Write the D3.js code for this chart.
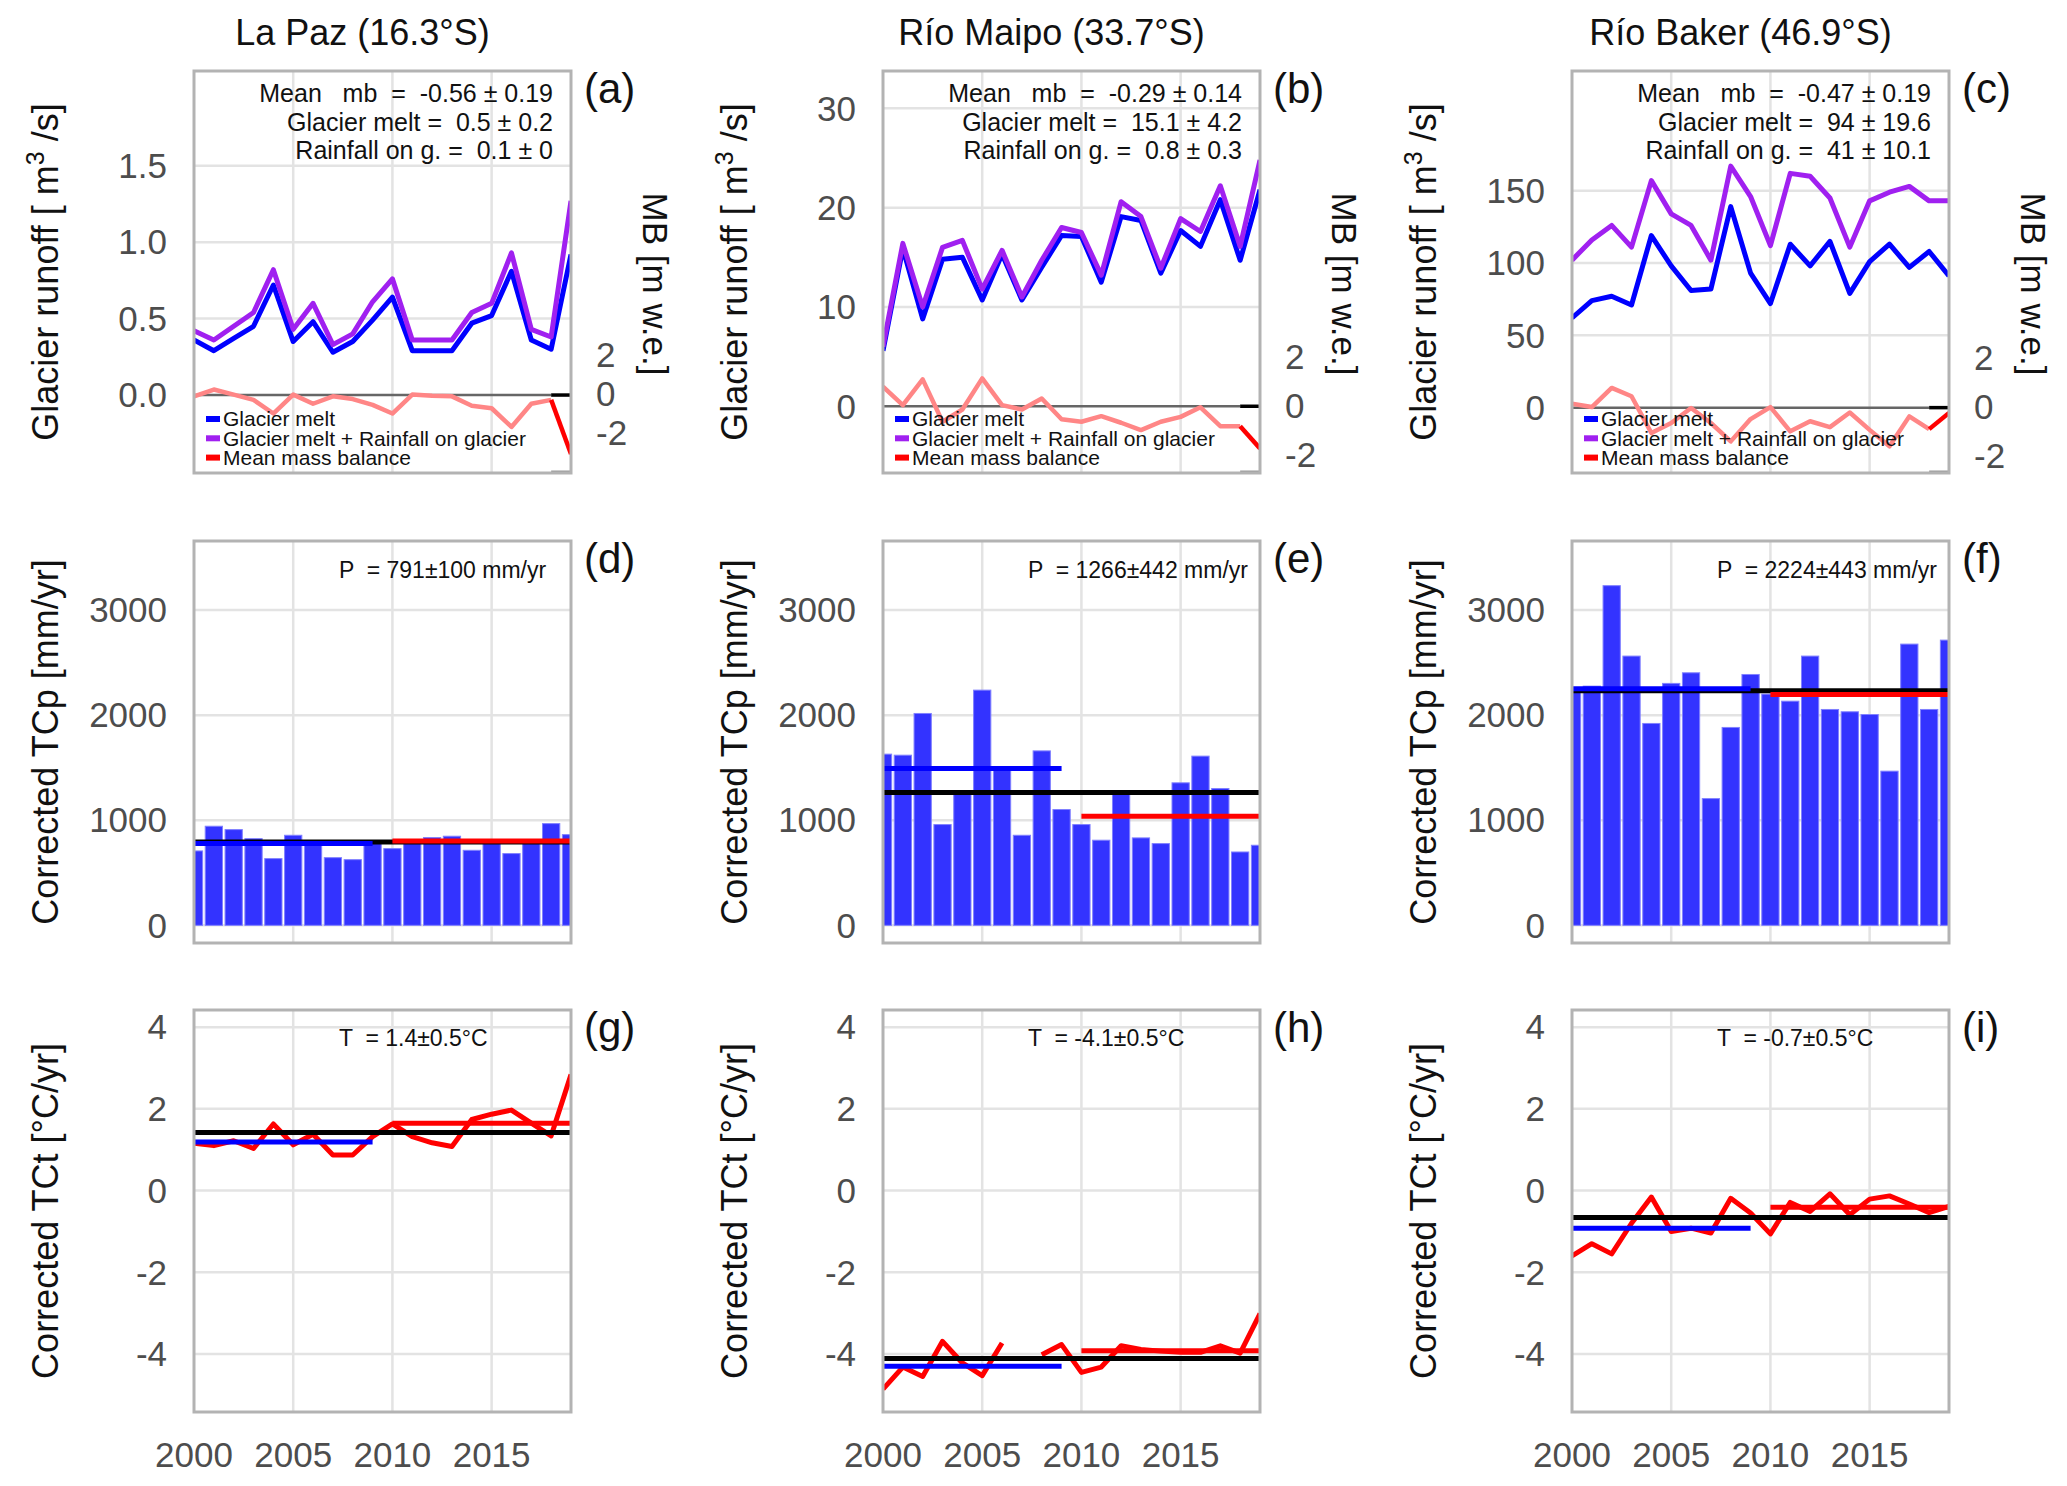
<!DOCTYPE html>
<html>
<head>
<meta charset="UTF-8">
<script src="https://d3js.org/d3.v7.min.js"></script>
<style>
body { margin: 0; background: #fff; }
svg { font-family: "Liberation Sans", Arial, sans-serif; }
.pre { white-space: pre; }
</style>
</head>
<body>
<svg id="chart" width="2067" height="1486"></svg>
<script>
// ---- datos ----
var years = [2000, 2001, 2002, 2003, 2004, 2005, 2006, 2007, 2008, 2009,
             2010, 2011, 2012, 2013, 2014, 2015, 2016, 2017, 2018, 2019];
var sites = ["La Paz (16.3°S)", "Río Maipo (33.7°S)", "Río Baker (46.9°S)"];
var letters = [["(a)", "(b)", "(c)"], ["(d)", "(e)", "(f)"], ["(g)", "(h)", "(i)"]];

// fila 1: escorrentia glaciar [m3/s] y balance de masa [m w.e.]
var meltLaPaz = [0.36, 0.29, 0.37, 0.45, 0.72, 0.35, 0.48, 0.28, 0.35, 0.49,
                 0.64, 0.29, 0.29, 0.29, 0.47, 0.52, 0.81, 0.36, 0.30, 0.92];
var meltRainLaPaz = [0.42, 0.36, 0.45, 0.54, 0.82, 0.43, 0.60, 0.33, 0.40, 0.61,
                     0.76, 0.36, 0.36, 0.36, 0.54, 0.60, 0.93, 0.43, 0.38, 1.27];
var mbLaPaz = [-0.12, 0.23, -0.03, -0.30, -1.00, -0.03, -0.50, -0.12, -0.26, -0.56,
               -1.00, -0.03, -0.09, -0.12, -0.60, -0.73, -1.69, -0.50, -0.30, -3.08];

var meltMaipo = [5.6, 15.9, 8.8, 14.8, 15.0, 10.7, 15.3, 10.7, 14.0, 17.2,
                 17.1, 12.5, 19.1, 18.7, 13.4, 17.7, 16.1, 20.8, 14.7, 21.8];
var meltRainMaipo = [6.0, 16.4, 10.0, 16.0, 16.7, 11.8, 15.7, 11.0, 14.7, 18.0,
                     17.5, 13.2, 20.6, 19.1, 13.9, 18.9, 17.6, 22.2, 16.1, 24.8];
var mbMaipo = [0.79, 0.04, 1.09, -0.64, -0.14, 1.13, 0.04, -0.14, 0.31, -0.54,
               -0.64, -0.41, -0.68, -0.98, -0.64, -0.44, -0.05, -0.82, -0.82, -1.73];

var meltBaker = [62, 74, 77, 71, 119, 98, 81, 82, 139, 93,
                 72, 113, 98, 115, 79, 101, 113, 97, 108, 91];
var meltRainBaker = [102, 116, 126, 111, 157, 134, 126, 102, 167, 146,
                     112, 162, 160, 145, 111, 143, 149, 153, 143, 143];
var mbBaker = [0.14, 0.00, 0.78, 0.44, -1.06, -0.65, -0.04, -0.65, -1.40, -0.49,
               0.00, -0.99, -0.58, -0.82, -0.22, -0.93, -1.60, -0.38, -0.90, -0.24];

// fila 2: precipitacion corregida TCp [mm/yr]
var tcpLaPaz = [708, 943, 911, 825, 635, 857, 778, 644, 625, 790,
                730, 790, 835, 848, 714, 778, 683, 790, 968, 863];
var tcpMaipo = [1629, 1619, 2016, 959, 1270, 2238, 1476, 857, 1660, 1102,
                959, 810, 1248, 832, 778, 1356, 1610, 1302, 698, 762];
var tcpBaker = [2263, 2276, 3232, 2562, 1921, 2302, 2403, 1206, 1883, 2387,
                2200, 2133, 2562, 2054, 2032, 2006, 1467, 2676, 2054, 2714];
var tcpMeanAll = [794, 1263, 2232];
var tcpMeanEarly = [778, 1492, 2251];   // 2000-2009
var tcpMeanLate = [803, 1038, 2197];    // 2010-2019

// fila 3: temperatura corregida TCt [°C/yr]
var tctLaPaz = [1.16, 1.10, 1.22, 1.03, 1.63, 1.12, 1.38, 0.87, 0.87, 1.32,
                1.63, 1.32, 1.17, 1.08, 1.74, 1.87, 1.97, 1.65, 1.34, 2.84];
var tctMaipo = [-4.86, -4.32, -4.55, -3.69, -4.22, -4.53, -3.73, null, -4.02, -3.77,
                -4.45, -4.32, -3.80, -3.89, -3.93, -3.96, -3.96, -3.80, -3.98, -3.01];
var tctBaker = [-1.60, -1.30, -1.55, -0.80, -0.16, -1.00, -0.92, -1.04, -0.19, -0.55,
                -1.06, -0.29, -0.51, -0.08, -0.59, -0.21, -0.13, -0.33, -0.54, -0.39];
var tctMeanAll = [1.42, -4.11, -0.66];
var tctMeanEarly = [1.19, -4.30, -0.92];
var tctMeanLate = [1.65, -3.92, -0.41];

// textos
var statsText = [
  ["Mean   mb  =  -0.56 ± 0.19", "Glacier melt =  0.5 ± 0.2", "Rainfall on g. =  0.1 ± 0"],
  ["Mean   mb  =  -0.29 ± 0.14", "Glacier melt =  15.1 ± 4.2", "Rainfall on g. =  0.8 ± 0.3"],
  ["Mean   mb  =  -0.47 ± 0.19", "Glacier melt =  94 ± 19.6", "Rainfall on g. =  41 ± 10.1"]];
var pText = ["P  = 791±100 mm/yr", "P  = 1266±442 mm/yr", "P  = 2224±443 mm/yr"];
var tText = ["T  = 1.4±0.5°C", "T  = -4.1±0.5°C", "T  = -0.7±0.5°C"];
var legendNames = ["Glacier melt", "Glacier melt + Rainfall on glacier", "Mean mass balance"];

// ticks
var yearTicks = [2000, 2005, 2010, 2015];
var runoffTicks = [[0, 0.5, 1.0, 1.5], [0, 10, 20, 30], [0, 50, 100, 150]];
var runoffFormat = [".1f", "d", "d"];
var mbTicks = [-2, 0, 2];
var tcpTicks = [0, 1000, 2000, 3000];
var tctTicks = [-4, -2, 0, 2, 4];

// dominios de los ejes
var runoffDomain = [[-0.51, 2.12], [-6.72, 33.76], [-45.2, 232.8]];
var mbDomain = [[-4.05, 16.56], [-2.73, 13.67], [-2.69, 13.71]];
var tcpDomain = [-168, 3657];
var tctDomain = [-5.42, 4.42];

var meltSeries = [meltLaPaz, meltMaipo, meltBaker];
var meltRainSeries = [meltRainLaPaz, meltRainMaipo, meltRainBaker];
var mbSeries = [mbLaPaz, mbMaipo, mbBaker];
var tcpSeries = [tcpLaPaz, tcpMaipo, tcpBaker];
var tctSeries = [tctLaPaz, tctMaipo, tctBaker];

// ---- dibujo ----
var svg = d3.select("#chart");
var colLeft = [194, 883, 1572], pw = 377;
var rowTop = [71, 541, 1010], ph = 402;
var tickColor = "#4d4d4d", gridColor = "#e3e3e3";
// guion normal en vez del signo menos tipografico
var locale = d3.formatLocale({decimal: ".", thousands: "", grouping: [3], currency: ["", ""], minus: "-"});

svg.append("rect").attr("width", 2067).attr("height", 1486).attr("fill", "#fff");

// titulos
sites.forEach(function(s, i) {
  svg.append("text")
    .attr("x", colLeft[i] + pw / 2 - 20).attr("y", 45)
    .attr("text-anchor", "middle").attr("font-size", 36).attr("fill", "#111")
    .text(s);
});

function makePanel(c, r) {
  var left = colLeft[c], top = rowTop[r];
  var g = svg.append("g");
  var x = d3.scaleLinear().domain([2000, 2019]).range([left, left + pw]);
  var id = "clip" + c + r;
  svg.append("clipPath").attr("id", id).append("rect")
    .attr("x", left).attr("y", top).attr("width", pw).attr("height", ph);
  // rejilla vertical
  g.selectAll(".vg").data(yearTicks.slice(1)).enter().append("line")
    .attr("x1", d => x(d)).attr("x2", d => x(d))
    .attr("y1", top).attr("y2", top + ph)
    .attr("stroke", gridColor).attr("stroke-width", 2.5);
  // letra del panel
  svg.append("text").attr("x", left + pw + 13).attr("y", top + 32)
    .attr("font-size", 42).attr("fill", "#111").text(letters[r][c]);
  var plot = svg.append("g").attr("clip-path", "url(#" + id + ")");
  return {g: g, plot: plot, x: x, left: left, top: top};
}

function hGrid(p, y, ticks) {
  p.g.selectAll(null).data(ticks).enter().append("line")
    .attr("x1", p.left).attr("x2", p.left + pw)
    .attr("y1", d => y(d)).attr("y2", d => y(d))
    .attr("stroke", gridColor).attr("stroke-width", 2.5);
}

function leftTicks(p, y, ticks, fmt) {
  svg.append("g").selectAll("text").data(ticks).enter().append("text")
    .attr("x", p.left - 27).attr("y", d => y(d)).attr("dy", "0.35em")
    .attr("text-anchor", "end").attr("font-size", 35).attr("fill", tickColor)
    .text(d => locale.format(fmt)(d));
}

function frame(p) {
  svg.append("rect").attr("x", p.left).attr("y", p.top)
    .attr("width", pw).attr("height", ph)
    .attr("fill", "none").attr("stroke", "#b3b3b3").attr("stroke-width", 3);
}

function hSeg(p, y, v, x0, x1, color, w) {
  p.plot.append("line")
    .attr("x1", p.x(x0)).attr("x2", p.x(x1))
    .attr("y1", y(v)).attr("y2", y(v))
    .attr("stroke", color).attr("stroke-width", w);
}

function rowLabel(p, parts) {
  var t = svg.append("text")
    .attr("transform", "translate(" + (p.left - 149) + "," + (p.top + ph / 2) + ") rotate(-90)")
    .attr("text-anchor", "middle").attr("dy", "0.35em")
    .attr("font-size", 36).attr("fill", "#111");
  parts.forEach(function(pt) {
    var ts = t.append("tspan").attr("class", "pre").text(pt.t);
    if (pt.sup) ts.attr("font-size", 25).attr("baseline-shift", "super");
  });
}

for (var c = 0; c < 3; c++) {
  // ---------- fila 1 ----------
  var p = makePanel(c, 0);
  var yR = d3.scaleLinear().domain(runoffDomain[c]).range([p.top + ph, p.top]);
  var yM = d3.scaleLinear().domain(mbDomain[c]).range([p.top + ph, p.top]);
  hGrid(p, yR, runoffTicks[c].slice(1));
  // linea cero
  hSeg(p, yR, 0, 2000, 2018, "#666", 2.5);
  hSeg(p, yR, 0, 2018, 2019, "#000", 3.5);
  p.plot.append("line").attr("x1", p.x(2018)).attr("x2", p.x(2019))
    .attr("y1", p.top + ph - 1).attr("y2", p.top + ph - 1)
    .attr("stroke", "#999").attr("stroke-width", 3);

  var lineR = d3.line().x((d, i) => p.x(years[i])).y(d => yR(d));
  p.plot.append("path").datum(meltSeries[c]).attr("d", lineR)
    .attr("fill", "none").attr("stroke", "#0000ff").attr("stroke-width", 5)
    .attr("stroke-linejoin", "round");
  p.plot.append("path").datum(meltRainSeries[c]).attr("d", lineR)
    .attr("fill", "none").attr("stroke", "#a020f0").attr("stroke-width", 5)
    .attr("stroke-linejoin", "round");

  var mbPts = mbSeries[c].map((v, i) => [years[i], v]);
  var lineM = d3.line().x(d => p.x(d[0])).y(d => yM(d[1]));
  p.plot.append("path").datum(mbPts.slice(0, 19)).attr("d", lineM)
    .attr("fill", "none").attr("stroke", "#ff8686").attr("stroke-width", 4.5)
    .attr("stroke-linejoin", "round");
  p.plot.append("path").datum(mbPts.slice(18)).attr("d", lineM)
    .attr("fill", "none").attr("stroke", "#ff0000").attr("stroke-width", 4.5);

  // leyenda
  var legColors = ["#0000ff", "#a020f0", "#ff0000"];
  legendNames.forEach(function(n, k) {
    var ly = p.top + 348 + k * 19.3;
    svg.append("rect").attr("x", p.left + 12).attr("y", ly - 3)
      .attr("width", 14).attr("height", 6).attr("fill", legColors[k]);
    svg.append("text").attr("x", p.left + 29).attr("y", ly).attr("dy", "0.35em")
      .attr("font-size", 21).attr("fill", "#111").text(n);
  });
  // estadisticas
  statsText[c].forEach(function(s, k) {
    svg.append("text").attr("class", "pre")
      .attr("x", p.left + pw - 18).attr("y", p.top + 31 + k * 28.5)
      .attr("text-anchor", "end").attr("font-size", 25).attr("fill", "#111")
      .text(s);
  });
  leftTicks(p, yR, runoffTicks[c], runoffFormat[c]);
  svg.append("g").selectAll("text").data(mbTicks).enter().append("text")
    .attr("x", p.left + pw + 25).attr("y", d => yM(d)).attr("dy", "0.35em")
    .attr("font-size", 35).attr("fill", tickColor).text(d => locale.format("d")(d));
  svg.append("text")
    .attr("transform", "translate(" + (p.left + pw + 84) + "," + (p.top + 213) + ") rotate(90)")
    .attr("text-anchor", "middle").attr("dy", "0.35em")
    .attr("font-size", 35).attr("fill", "#111").text("MB [m w.e.]");
  rowLabel(p, [{t: "Glacier runoff [ m"}, {t: "3", sup: true}, {t: " /s]"}]);
  frame(p);

  // ---------- fila 2 ----------
  p = makePanel(c, 1);
  var yP = d3.scaleLinear().domain(tcpDomain).range([p.top + ph, p.top]);
  hGrid(p, yP, tcpTicks);
  var bw = (p.x(2001) - p.x(2000)) * 0.87;
  var xp = p.x;
  p.plot.selectAll("rect.bar").data(tcpSeries[c]).enter().append("rect")
    .attr("class", "bar")
    .attr("x", (d, i) => xp(years[i]) - bw / 2).attr("width", bw)
    .attr("y", d => yP(d)).attr("height", d => yP(0) - yP(d))
    .attr("fill", "#3333ff").attr("stroke", "#8080ff").attr("stroke-width", 1);
  hSeg(p, yP, tcpMeanAll[c], 2000, 2019, "#000", 5);
  hSeg(p, yP, tcpMeanEarly[c], 2000, 2009, "#0000ff", 5);
  hSeg(p, yP, tcpMeanLate[c], 2010, 2019, "#ff0000", 5);
  svg.append("text").attr("class", "pre")
    .attr("x", p.left + 145).attr("y", p.top + 37)
    .attr("font-size", 23).attr("fill", "#111").text(pText[c]);
  leftTicks(p, yP, tcpTicks, "d");
  rowLabel(p, [{t: "Corrected TCp [mm/yr]"}]);
  frame(p);

  // ---------- fila 3 ----------
  p = makePanel(c, 2);
  var yT = d3.scaleLinear().domain(tctDomain).range([p.top + ph, p.top]);
  hGrid(p, yT, tctTicks);
  var xt = p.x;
  var lineT = d3.line().defined(d => d != null)
    .x((d, i) => xt(years[i])).y(d => yT(d));
  p.plot.append("path").datum(tctSeries[c]).attr("d", lineT)
    .attr("fill", "none").attr("stroke", "#ff0000").attr("stroke-width", 5)
    .attr("stroke-linejoin", "round");
  hSeg(p, yT, tctMeanAll[c], 2000, 2019, "#000", 5);
  hSeg(p, yT, tctMeanEarly[c], 2000, 2009, "#0000ff", 5);
  hSeg(p, yT, tctMeanLate[c], 2010, 2019, "#ff0000", 5);
  svg.append("text").attr("class", "pre")
    .attr("x", p.left + 145).attr("y", p.top + 36)
    .attr("font-size", 23).attr("fill", "#111").text(tText[c]);
  leftTicks(p, yT, tctTicks, "d");
  svg.append("g").selectAll("text").data(yearTicks).enter().append("text")
    .attr("x", d => xt(d)).attr("y", 1455).attr("dy", "0.35em")
    .attr("text-anchor", "middle").attr("font-size", 35).attr("fill", tickColor)
    .text(d => d);
  rowLabel(p, [{t: "Corrected TCt [°C/yr]"}]);
  frame(p);
}
</script>
</body>
</html>
